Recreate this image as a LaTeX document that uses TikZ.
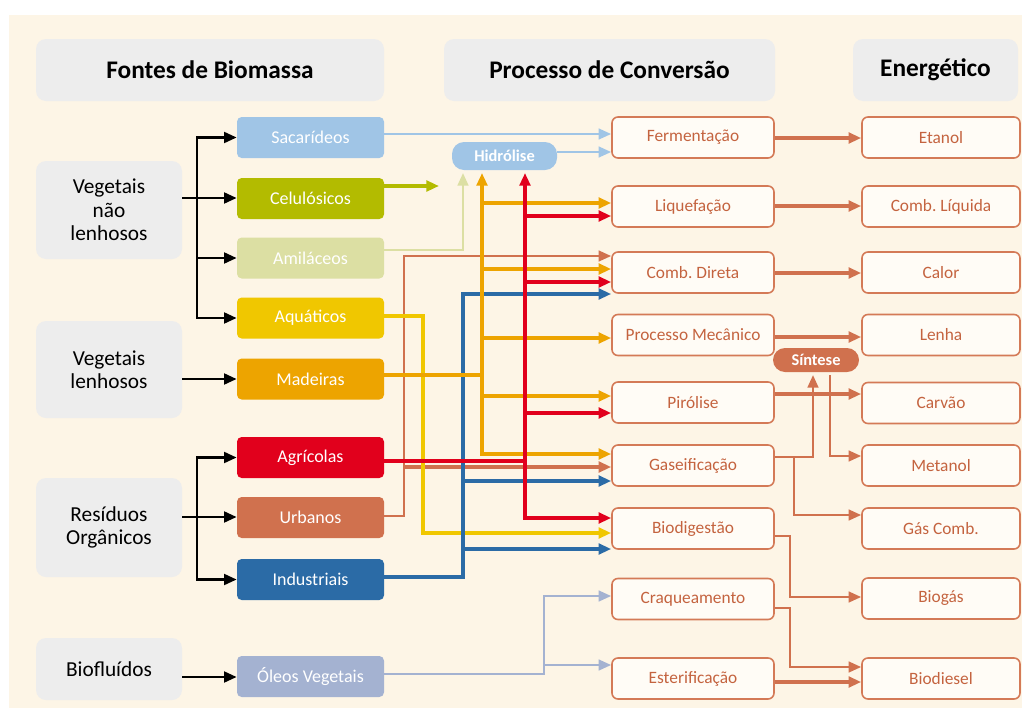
\documentclass[tikz,border=0pt]{standalone}
\usepackage{fontspec}
\setmainfont{Carlito}
\frenchspacing
\usetikzlibrary{arrows.meta}
\definecolor{cream}{HTML}{FDF5E6}
\definecolor{hdr}{HTML}{EDEDED}
\definecolor{csac}{HTML}{A0C5E6}
\definecolor{ccel}{HTML}{B3BB00}
\definecolor{cami}{HTML}{DCDFA3}
\definecolor{caqu}{HTML}{F0C700}
\definecolor{cmad}{HTML}{EDA400}
\definecolor{cagr}{HTML}{E1001C}
\definecolor{curb}{HTML}{D0714E}
\definecolor{cind}{HTML}{2B6BA6}
\definecolor{cole}{HTML}{A4B2D1}
\definecolor{pborder}{HTML}{D47A57}
\definecolor{ptext}{HTML}{C4633F}
\definecolor{pfill}{HTML}{FFFCF6}
\tikzset{
  hdrbox/.style={fill=hdr, rounded corners=7.5pt, minimum height=46.5pt, inner sep=0pt,
    font=\bfseries\fontsize{19}{21}\selectfont, text=black},
  catbox/.style={fill=hdr, rounded corners=7.5pt, minimum width=109.5pt, inner sep=0pt,
    align=center, font=\fontsize{16}{17.6}\selectfont, text=black},
  srcbox/.style={rounded corners=3.5pt, minimum width=110.25pt, minimum height=30.75pt,
    inner sep=0pt, text=white, font=\fontsize{13.5}{15}\selectfont},
  procbox/.style={draw=pborder, line width=1.2pt, fill=pfill, rounded corners=4.5pt,
    minimum width=121.5pt, minimum height=30.75pt, inner sep=0pt, text=ptext,
    font=\fontsize{13}{15}\selectfont},
  enbox/.style={procbox, minimum width=118.5pt},
  pill/.style={rounded corners=9pt, inner sep=0pt, text=white,
    font=\bfseries\fontsize{12.3}{13}\selectfont},
  tip/.style={-{Triangle[length=9.5pt,width=8pt]}},
  blk/.style={draw=black, line width=2.1pt, tip},
  cl/.style={line width=2.4pt},
  cla/.style={cl, tip},
  thin/.style={line width=1.9pt},
  thina/.style={thin, tip},
}
\begin{document}
\begin{tikzpicture}[x=0.75pt,y=-0.75pt]
\useasboundingbox (0,0) rectangle (1022,711);
\fill[white] (0,0) rectangle (1022,711);
\fill[cream] (9,15) rectangle (1022,708);

% headers
\node[hdrbox, minimum width=261pt] (h1) at (210,70) {Fontes de Biomassa};
\node[hdrbox, minimum width=248.25pt] (h2) at (609.5,70) {Processo de Conversão};
\node[hdrbox, minimum width=123.75pt] (h3) at (935.5,70) {Energético};

% categories
\node[catbox, minimum height=73.5pt] (vnl) at (109,210) {Vegetais\\não\\lenhosos};
\node[catbox, minimum height=72.75pt] (vl) at (109,369.5) {Vegetais\\lenhosos};
\node[catbox, minimum height=74.25pt] (ro) at (109,527.5) {Resíduos\\Orgânicos};
\node[catbox, minimum height=46.5pt] (bio) at (109,669) {Biofluídos};

% sources
\node[srcbox, fill=csac] (sac) at (310.5,137.5) {Sacarídeos};
\node[srcbox, fill=ccel] (cel) at (310.5,198.5) {Celulósicos};
\node[srcbox, fill=cami] (ami) at (310.5,258) {Amiláceos};
\node[srcbox, fill=caqu] (aqu) at (310.5,318) {Aquáticos};
\node[srcbox, fill=cmad] (mad) at (310.5,379) {Madeiras};
\node[srcbox, fill=cagr] (agr) at (310.5,457.5) {Agrícolas};
\node[srcbox, fill=curb] (urb) at (310.5,517.5) {Urbanos};
\node[srcbox, fill=cind] (ind) at (310.5,579.5) {Industriais};
\node[srcbox, fill=cole] (ole) at (310.5,676.5) {Óleos Vegetais};

% processes
\node[procbox] (ferm) at (693,137.5) {Fermentação};
\node[procbox] (liq) at (693,206.5) {Liquefação};
\node[procbox] (comb) at (693,272.5) {Comb. Direta};
\node[procbox] (pm) at (693,335) {Processo Mecânico};
\node[procbox] (pir) at (693,402.5) {Pirólise};
\node[procbox] (gas) at (693,465.5) {Gaseificação};
\node[procbox] (bdg) at (693,528.5) {Biodigestão};
\node[procbox] (craq) at (693,599) {Craqueamento};
\node[procbox] (est) at (693,678.5) {Esterificação};

% energy
\node[enbox] (etan) at (941,137.5) {Etanol};
\node[enbox] (cliq) at (941,206.5) {Comb. Líquida};
\node[enbox] (cal) at (941,272.5) {Calor};
\node[enbox] (len) at (941,335) {Lenha};
\node[enbox] (carv) at (941,403) {Carvão};
\node[enbox] (met) at (941,465.5) {Metanol};
\node[enbox] (gcomb) at (941,528.5) {Gás Comb.};
\node[enbox] (biog) at (941,598.5) {Biogás};
\node[enbox] (biod) at (941,678.5) {Biodiesel};

% small pills
\node[pill, fill=csac, minimum width=78.75pt, minimum height=21pt] (hid) at (504.5,156) {Hidrólise};
\node[pill, fill=curb, minimum width=64.5pt, minimum height=18pt] (sin) at (816,360) {Síntese};

% black connectors
\draw[blk] (vnl.east |- 0,198) -- (cel.west |- 0,198);
\draw[blk] (197,198) |- (sac.west);
\draw[blk] (197,198) |- (ami.west);
\draw[blk] (197,198) |- (aqu.west);
\draw[blk] (vl.east |- 0,379) -- (mad.west);
\draw[blk] (ro.east |- 0,517) -- (urb.west |- 0,517);
\draw[blk] (197,517) |- (agr.west);
\draw[blk] (197,517) |- (ind.west);
\draw[blk] (bio.east |- 0,677) -- (ole.west |- 0,677);

% sacarideos / hidrolise
\draw[csac, thina] (sac.east |- 0,134) -- (ferm.west |- 0,134);
\draw[csac, thina] (hid.east |- 0,152) -- (ferm.west |- 0,152);
% celulosicos
\draw[ccel, cla] (cel.east |- 0,186) -- (439,186);
% amilaceos
\draw[cami, thina] (ami.east |- 0,250) -| (463,173);
% urbanos
\draw[curb, thina] (urb.east |- 0,516) -| (404,256) -- (comb.west |- 0,256);
\draw[curb, cla] (404,467) -- (gas.west |- 0,467);
% aquaticos
\draw[caqu, cla] (aqu.east |- 0,316) -| (423,533) -- (bdg.west |- 0,533);
% industriais
\draw[cind, cla] (ind.east |- 0,577) -| (463,294) -- (comb.west |- 0,294);
\draw[cind, cla] (463,481) -- (gas.west |- 0,481);
\draw[cind, cla] (463,549) -- (bdg.west |- 0,549);
% madeiras
\draw[cmad, cl] (mad.east |- 0,375) -- (482,375);
\draw[cmad, cla] (482,375) -- (482,173);
\draw[cmad, cla] (482,375) |- (gas.west |- 0,454);
\draw[cmad, cla] (482,203) -- (liq.west |- 0,203);
\draw[cmad, cla] (482,269) -- (comb.west |- 0,269);
\draw[cmad, cla] (482,338) -- (pm.west |- 0,338);
\draw[cmad, cla] (482,396) -- (pir.west |- 0,396);
% agricolas
\draw[cagr, cl] (agr.east |- 0,461) -- (525,461);
\draw[cagr, cla] (525,461) -- (525,173);
\draw[cagr, cla] (525,461) |- (bdg.west |- 0,518);
\draw[cagr, cla] (525,216) -- (liq.west |- 0,216);
\draw[cagr, cla] (525,282) -- (comb.west |- 0,282);
\draw[cagr, cla] (525,413) -- (pir.west |- 0,413);
% oleos
\draw[cole, thina] (ole.east |- 0,674) -| (544,596) -- (craq.west |- 0,596);
\draw[cole, thina] (544,665) -- (est.west |- 0,665);

% right side
\draw[curb, cla] (ferm.east |- 0,138) -- (etan.west |- 0,138);
\draw[curb, cla] (liq.east |- 0,206) -- (cliq.west |- 0,206);
\draw[curb, cla] (comb.east |- 0,273) -- (cal.west |- 0,273);
\draw[curb, cla] (pm.east |- 0,337) -- (len.west |- 0,337);
\draw[curb, cla] (pir.east |- 0,394) -- (carv.west |- 0,394);
\draw[curb, thina] (gas.east |- 0,457) -| (813,375);
\draw[curb, thina] (794,457) |- (gcomb.west |- 0,515);
\draw[curb, thina] (830,375) |- (met.west |- 0,456);
\draw[curb, thina] (bdg.east |- 0,536) -| (790,597) -- (biog.west |- 0,597);
\draw[curb, thina] (craq.east |- 0,608) -| (790,667) -- (biod.west |- 0,667);
\draw[curb, cla] (est.east |- 0,682) -- (biod.west |- 0,682);
\end{tikzpicture}
\end{document}
